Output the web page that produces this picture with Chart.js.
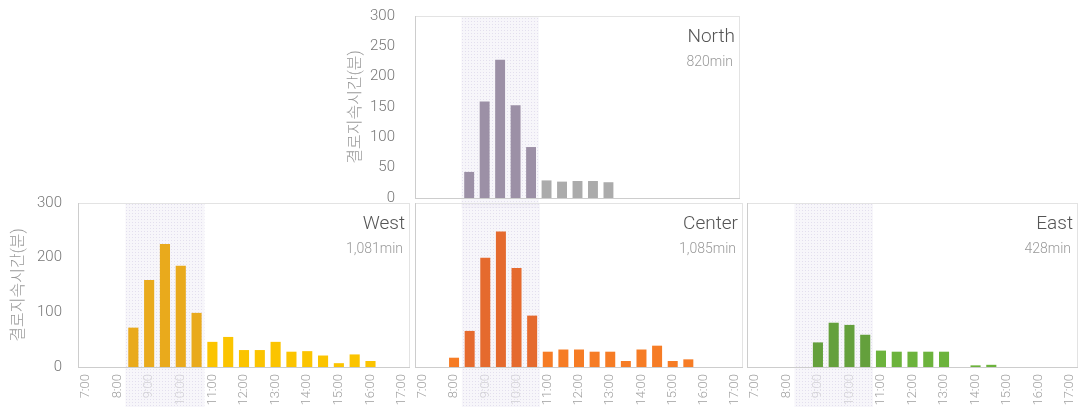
<!DOCTYPE html>
<html>
<head>
<meta charset="utf-8">
<script src="https://cdn.jsdelivr.net/npm/chart.js@4.4.1/dist/chart.umd.min.js"></script>
<style>
  body { margin: 0; background: #fff; width: 1080px; height: 407px; position: relative; overflow: hidden; }
  canvas { position: absolute; }
</style>
</head>
<body>
<canvas id="grafico_north" width="415" height="212" style="left:330px;top:0px"></canvas>
<canvas id="grafico_west" width="412" height="212" style="left:0px;top:195px"></canvas>
<canvas id="grafico_center" width="334" height="212" style="left:412px;top:195px"></canvas>
<canvas id="grafico_east" width="335" height="212" style="left:745px;top:195px"></canvas>
<script>
const horarios = ['7:00', '7:30', '8:00', '8:30', '9:00', '9:30', '10:00', '10:30', '11:00', '11:30',
    '12:00', '12:30', '13:00', '13:30', '14:00', '14:30', '15:00', '15:30', '16:00', '16:30', '17:00'];

const valoresNorth = [null, null, null, 43, 159, 228, 153, 84, 29, 27, 28, 28, 26, null, null, null, null, null, null, null, null];
const valoresWest = [null, null, null, 72, 159, 225, 185, 99, 46, 55, 31, 31, 46, 28, 29, 21, 7, 23, 11, null, null];
const valoresCenter = [null, null, 17, 66, 200, 248, 181, 94, 28, 32, 32, 28, 28, 11, 32, 39, 11, 14, null, null, null];
const valoresEast = [null, null, null, null, 45, 81, 77, 59, 30, 28, 28, 28, 28, null, 3, 4, null, null, null, null, null];

const regioes = ['North', 'West', 'Center', 'East'];
const totais = ['820min', '1,081min', '1,085min', '428min'];

// faixa sombreada: do meio de 8:00/8:30 até o meio de 10:30/11:00
const faixaInicio = '8:00';
const faixaFim = '11:00';

const tituloY = '결로지속시간(분)';
const fonte = "Roboto, 'Noto Sans CJK KR', sans-serif";

function padraoFaixa(ctx) {
    const p = document.createElement('canvas');
    p.width = 3; p.height = 3;
    const c = p.getContext('2d');
    c.fillStyle = 'rgba(242, 240, 247, 0.6)';
    c.fillRect(0, 0, 3, 3);
    c.fillStyle = 'rgba(214, 208, 230, 0.6)';
    c.fillRect(0, 0, 1, 1);
    return ctx.createPattern(p, 'repeat');
}

function coresBarras(dentro, fora) {
    const i0 = horarios.indexOf(faixaInicio), i1 = horarios.indexOf(faixaFim);
    return horarios.map((h, i) => (i > i0 && i < i1) ? dentro : fora);
}

function criarPainel(id, idx, valores, dentro, fora, cfg) {
    const ctx = document.getElementById(id).getContext('2d');
    const plugin = {
        id: 'painel_' + id,
        beforeDatasetsDraw(chart) {
            const c = chart.ctx, a = chart.chartArea, x = chart.scales.x;
            const i0 = horarios.indexOf(faixaInicio), i1 = horarios.indexOf(faixaFim);
            const l = (x.getPixelForValue(i0) + x.getPixelForValue(i0 + 1)) / 2;
            const r = (x.getPixelForValue(i1 - 1) + x.getPixelForValue(i1)) / 2;
            c.save();
            c.fillStyle = padraoFaixa(c);
            c.fillRect(l, a.top, r - l, cfg.faixaBaixo(chart) - a.top);
            // moldura
            c.strokeStyle = '#e3e3e3';
            c.lineWidth = 1;
            c.strokeRect(Math.round(a.left) + 0.5, Math.round(a.top) + 0.5, Math.round(a.right - a.left) - 1, Math.round(a.bottom - a.top));
            c.strokeStyle = '#cdcdcd';
            c.beginPath();
            c.moveTo(Math.round(a.left) + 0.5, a.top);
            c.lineTo(Math.round(a.left) + 0.5, a.bottom + 1);
            c.moveTo(a.left, Math.round(a.bottom) + 0.5);
            c.lineTo(a.right, Math.round(a.bottom) + 0.5);
            c.stroke();
            c.restore();
        },
        afterDraw(chart) {
            const c = chart.ctx, a = chart.chartArea;
            c.save();
            c.textAlign = 'right';
            c.textBaseline = 'middle';
            c.fillStyle = '#555';
            c.font = '300 19px ' + fonte;
            c.fillText(regioes[idx], a.right - 5, a.top + 21);
            c.fillStyle = '#999';
            c.font = '300 14px ' + fonte;
            c.fillText(totais[idx], a.right - 7, a.top + 46);
            c.restore();
        }
    };
    new Chart(ctx, {
        type: 'bar',
        data: {
            labels: horarios,
            datasets: [{
                label: regioes[idx],
                data: valores,
                backgroundColor: coresBarras(dentro, fora),
                borderWidth: 0,
                barPercentage: 0.8,
                categoryPercentage: 0.8
            }]
        },
        options: {
            responsive: false,
            animation: false,
            devicePixelRatio: 1,
            layout: { padding: cfg.padding },
            plugins: { legend: { display: false }, tooltip: { enabled: false } },
            scales: {
                x: {
                    display: cfg.mostrarX,
                    grid: { display: false, drawTicks: false },
                    border: { display: false },
                    afterFit: (s) => {
                        s.height = cfg.mostrarX ? 40 : 0;
                        s.paddingLeft = 0; s.paddingRight = 0;
                    },
                    ticks: {
                        autoSkip: false,
                        maxRotation: 90,
                        minRotation: 90,
                        padding: 7,
                        color: '#a0a0a0',
                        font: { family: fonte, size: 13, weight: 300 },
                        callback: function (value) {
                            const l = this.getLabelForValue(value);
                            return l.endsWith(':00') ? l : '';
                        }
                    }
                },
                y: {
                    display: cfg.mostrarY,
                    min: 0,
                    max: 300,
                    grid: { display: false, drawTicks: false },
                    border: { display: false },
                    afterFit: (s) => {
                        s.width = cfg.larguraY;
                        s.paddingTop = 0; s.paddingBottom = 0;
                    },
                    title: {
                        display: true,
                        text: tituloY,
                        color: '#999',
                        padding: { top: cfg.tituloPad, bottom: 0 },
                        font: { family: fonte, size: 16, weight: 300 }
                    },
                    ticks: {
                        stepSize: cfg.passoY,
                        padding: cfg.tickPad,
                        color: '#777',
                        font: { family: fonte, size: 15, weight: 300 }
                    }
                }
            }
        },
        plugins: [plugin]
    });
}

criarPainel('grafico_north', 0, valoresNorth, '#9c90a6', '#ababab', {
    padding: { top: 16, right: 5, bottom: 14, left: 0 },
    mostrarX: false, mostrarY: true, larguraY: 85, passoY: 50, tituloPad: 16, tickPad: 20,
    faixaBaixo: (ch) => ch.chartArea.bottom + 10
});
criarPainel('grafico_west', 1, valoresWest, '#e9aa1c', '#fbc400', {
    padding: { top: 8, right: 2, bottom: 0, left: 0 },
    mostrarX: true, mostrarY: true, larguraY: 78, passoY: 100, tituloPad: 9, tickPad: 16,
    faixaBaixo: (ch) => ch.height
});
criarPainel('grafico_center', 2, valoresCenter, '#e56a2e', '#f67c25', {
    padding: { top: 8, right: 3, bottom: 0, left: 3 },
    mostrarX: true, mostrarY: false, larguraY: 0, passoY: 100, tituloPad: 0, tickPad: 0,
    faixaBaixo: (ch) => ch.height
});
criarPainel('grafico_east', 3, valoresEast, '#64a03c', '#6cb33c', {
    padding: { top: 8, right: 2, bottom: 0, left: 2 },
    mostrarX: true, mostrarY: false, larguraY: 0, passoY: 100, tituloPad: 0, tickPad: 0,
    faixaBaixo: (ch) => ch.height
});
</script>
</body>
</html>
